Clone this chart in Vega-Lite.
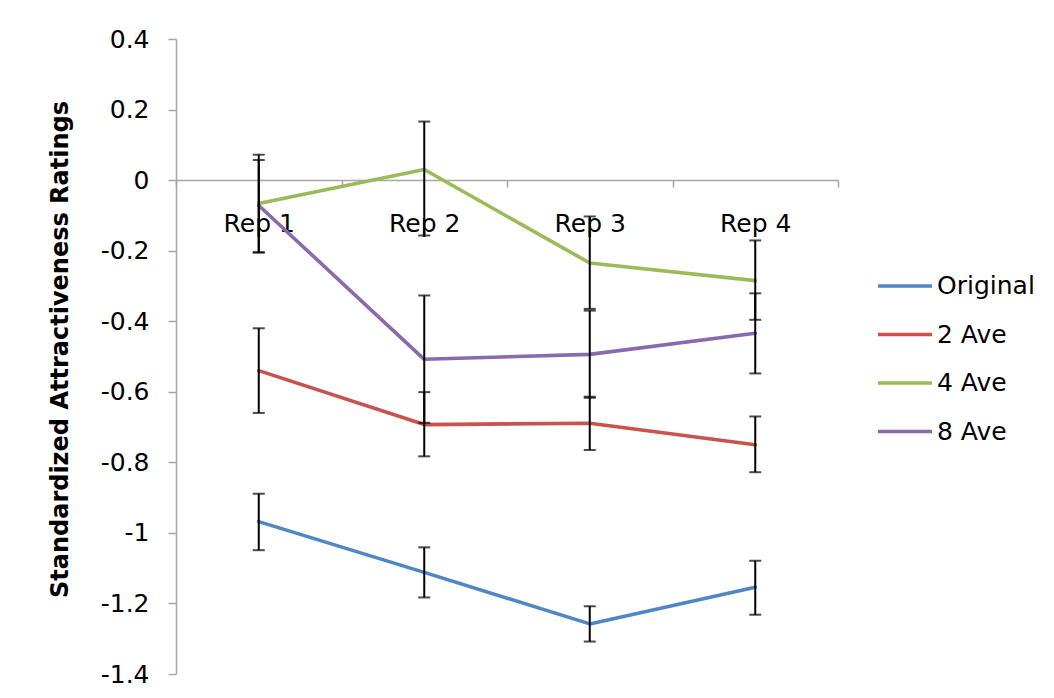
{
  "$schema": "https://vega.github.io/schema/vega-lite/v6.json",
  "autosize": {"type": "none"},
  "width": 662,
  "height": 635,
  "padding": {"left": 176, "top": 39, "right": 216, "bottom": 24},
  "background": "white",
  "config": {
    "font": "DejaVu Sans",
    "view": {"stroke": null},
    "axis": {"grid": false, "labelColor": "#000000", "labelFontSize": 25, "labelFont": "DejaVu Sans"}
  },
  "data": {
    "values": [
      {"rep": "Rep 1", "series": "Original", "mean": -0.968, "lo": -1.049, "hi": -0.889},
      {"rep": "Rep 2", "series": "Original", "mean": -1.112, "lo": -1.183, "hi": -1.041},
      {"rep": "Rep 3", "series": "Original", "mean": -1.258, "lo": -1.308, "hi": -1.208},
      {"rep": "Rep 4", "series": "Original", "mean": -1.154, "lo": -1.232, "hi": -1.079},
      {"rep": "Rep 1", "series": "2 Ave", "mean": -0.54, "lo": -0.66, "hi": -0.42},
      {"rep": "Rep 2", "series": "2 Ave", "mean": -0.693, "lo": -0.783, "hi": -0.601},
      {"rep": "Rep 3", "series": "2 Ave", "mean": -0.689, "lo": -0.765, "hi": -0.614},
      {"rep": "Rep 4", "series": "2 Ave", "mean": -0.75, "lo": -0.828, "hi": -0.67},
      {"rep": "Rep 1", "series": "4 Ave", "mean": -0.066, "lo": -0.205, "hi": 0.072},
      {"rep": "Rep 2", "series": "4 Ave", "mean": 0.03, "lo": -0.157, "hi": 0.166},
      {"rep": "Rep 3", "series": "4 Ave", "mean": -0.235, "lo": -0.365, "hi": -0.103},
      {"rep": "Rep 4", "series": "4 Ave", "mean": -0.285, "lo": -0.396, "hi": -0.171},
      {"rep": "Rep 1", "series": "8 Ave", "mean": -0.072, "lo": -0.205, "hi": 0.057},
      {"rep": "Rep 2", "series": "8 Ave", "mean": -0.508, "lo": -0.688, "hi": -0.327},
      {"rep": "Rep 3", "series": "8 Ave", "mean": -0.494, "lo": -0.617, "hi": -0.37},
      {"rep": "Rep 4", "series": "8 Ave", "mean": -0.434, "lo": -0.548, "hi": -0.321}
    ]
  },
  "encoding": {
    "x": {
      "field": "rep",
      "type": "nominal",
      "scale": {"type": "band", "paddingInner": 0, "paddingOuter": 0, "domain": ["Rep 1", "Rep 2", "Rep 3", "Rep 4"]},
      "axis": {
        "title": null,
        "offset": -493.9,
        "labelAngle": 0,
        "domainColor": "#a6a6a6",
        "domainWidth": 1.5,
        "tickColor": "#a6a6a6",
        "tickWidth": 1.5,
        "tickSize": 7,
        "tickBand": "extent",
        "labelPadding": 24,
        "zindex": 0
      }
    }
  },
  "layer": [
    {
      "mark": {"type": "line", "strokeWidth": 3.6, "strokeCap": "round", "strokeJoin": "round"},
      "encoding": {
        "y": {
          "field": "mean",
          "type": "quantitative",
          "scale": {"domain": [-1.4, 0.4], "nice": false, "zero": false},
          "axis": {
            "title": "Standardized Attractiveness Ratings",
            "titleFont": "DejaVu Sans",
            "titleFontSize": 24,
            "titleFontWeight": "bold",
            "titleColor": "#000000",
            "titleX": -116,
            "titleY": 310,
            "titleAlign": "center",
            "titleBaseline": "middle",
            "titleAngle": -90,
            "values": [-1.4, -1.2, -1, -0.8, -0.6, -0.4, -0.2, 0, 0.2, 0.4],
            "labelExpr": "datum.value < -0.0001 ? '-' + format(-datum.value, '.1~f') : format(datum.value, '.1~f')",
            "domainColor": "#a6a6a6",
            "domainWidth": 1.5,
            "tickColor": "#a6a6a6",
            "tickWidth": 1.5,
            "tickSize": 8,
            "labelPadding": 19
          }
        },
        "color": {
          "field": "series",
          "type": "nominal",
          "scale": {
            "domain": ["Original", "2 Ave", "4 Ave", "8 Ave"],
            "range": ["#4f86c6", "#c9524d", "#9bbb59", "#8a6aae"]
          },
          "legend": {
            "title": null,
            "orient": "none",
            "legendX": 700,
            "legendY": 218,
            "padding": 0,
            "symbolType": "stroke",
            "symbolSize": 2916,
            "symbolStrokeWidth": 3.6,
            "labelFontSize": 25,
            "labelFont": "DejaVu Sans",
            "labelColor": "#000000",
            "labelOffset": 3,
            "rowPadding": 6.5
          }
        }
      }
    },
    {
      "mark": {"type": "rule", "color": "#000000", "strokeWidth": 2},
      "encoding": {
        "y": {"field": "lo", "type": "quantitative"},
        "y2": {"field": "hi"}
      }
    },
    {
      "mark": {"type": "tick", "color": "#000000", "thickness": 2, "size": 12, "orient": "horizontal"},
      "encoding": {"y": {"field": "lo", "type": "quantitative"}}
    },
    {
      "mark": {"type": "tick", "color": "#000000", "thickness": 2, "size": 12, "orient": "horizontal"},
      "encoding": {"y": {"field": "hi", "type": "quantitative"}}
    }
  ]
}
